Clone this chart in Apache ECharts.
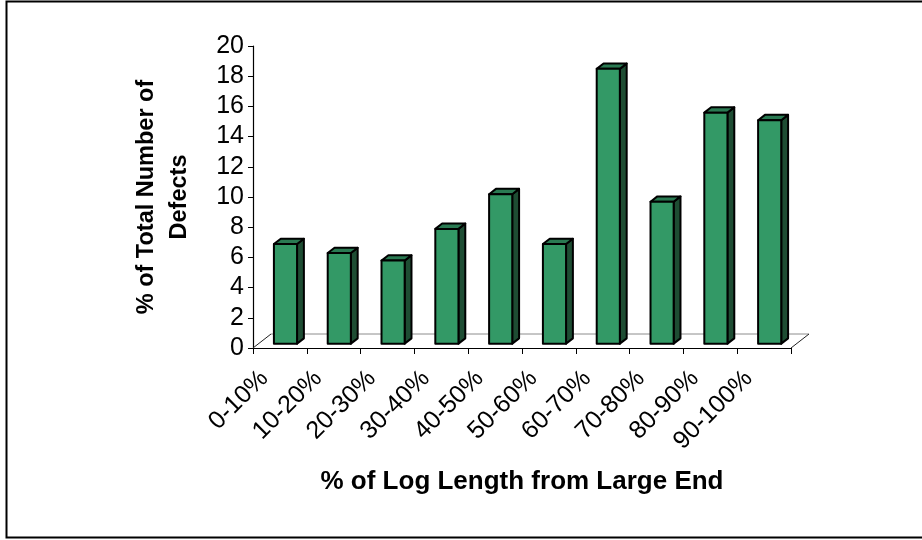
<!DOCTYPE html>
<html>
<head>
<meta charset="utf-8">
<script src="https://cdn.jsdelivr.net/npm/echarts@6/dist/echarts.min.js"></script>
<style>
  html, body { margin: 0; padding: 0; background: #ffffff; }
  #chart { width: 922px; height: 540px; }
</style>
</head>
<body>
<div id="chart"></div>
<script>
// Share of defects along the log, by position from the large end
const categories = ['0-10%', '10-20%', '20-30%', '30-40%', '40-50%',
                    '50-60%', '60-70%', '70-80%', '80-90%', '90-100%'];
const defectShare = [6.6, 6.0, 5.5, 7.6, 9.9, 6.6, 18.2, 9.4, 15.3, 14.8];
const yTicks = { min: 0, max: 20, step: 2 };

// Oblique projection of the floor depth (pixels) used for the pseudo-3D look
const DEPTH = [18, -14];
const BAR_FRONT = 0.31;   // bar front face position within the depth
const BAR_DEPTH = 0.38;   // bar thickness along the depth
const BAR_WIDTH = 0.43;   // bar front width as a share of the category band

const FONT = '"Liberation Sans", Arial, sans-serif';

function renderFloor(params, api) {
  const n = categories.length;
  const band = api.size([1, 0])[0];
  const l = api.coord([0, 0]);
  const r = api.coord([n - 1, 0]);
  const x0 = l[0] - band / 2, x1 = r[0] + band / 2, y0 = l[1];
  const bx0 = x0 + DEPTH[0], bx1 = x1 + DEPTH[0], by = y0 + DEPTH[1];
  return {
    type: 'group',
    children: [
      { type: 'polygon', shape: { points: [[x0, y0], [x1, y0], [bx1, by], [bx0, by]] },
        style: { fill: '#ffffff', stroke: null } },
      { type: 'line', shape: { x1: bx0, y1: by, x2: bx1, y2: by },
        style: { stroke: '#8c8c8c', lineWidth: 1 } },
      { type: 'line', shape: { x1: x0, y1: y0, x2: bx0, y2: by },
        style: { stroke: '#222222', lineWidth: 1 } },
      { type: 'line', shape: { x1: x1, y1: y0, x2: bx1, y2: by },
        style: { stroke: '#222222', lineWidth: 1 } }
    ]
  };
}

function renderBar(params, api) {
  const idx = api.value(0);
  const val = api.value(1);
  const base = api.coord([idx, 0]);
  const top = api.coord([idx, val]);
  const band = api.size([1, 0])[0];
  const w = band * BAR_WIDTH;
  const ox = DEPTH[0] * BAR_FRONT, oy = DEPTH[1] * BAR_FRONT;
  const dx = DEPTH[0] * BAR_DEPTH, dy = DEPTH[1] * BAR_DEPTH;
  const xl = base[0] - w / 2 + ox, xr = xl + w;
  const yb = base[1] + oy, yt = top[1] + oy;
  const edge = { stroke: '#000000', lineWidth: 2, lineJoin: 'round' };
  return {
    type: 'group',
    children: [
      { type: 'polygon', shape: { points: [[xr, yb], [xr + dx, yb + dy], [xr + dx, yt + dy], [xr, yt]] },
        style: Object.assign({ fill: '#1e4d33' }, edge) },
      { type: 'polygon', shape: { points: [[xl, yt], [xr, yt], [xr + dx, yt + dy], [xl + dx, yt + dy]] },
        style: Object.assign({ fill: '#2a7a52' }, edge) },
      { type: 'rect', shape: { x: xl, y: yt, width: w, height: yb - yt },
        style: Object.assign({ fill: '#339966' }, edge) }
    ]
  };
}

const chart = echarts.init(document.getElementById('chart'), null, { renderer: 'canvas' });
chart.setOption({
  animation: false,
  backgroundColor: '#ffffff',
  graphic: [{
    type: 'rect', z: 100,
    shape: { x: 6.5, y: 1.5, width: 930, height: 536 },
    style: { fill: null, stroke: '#000000', lineWidth: 2 }
  }],
  grid: { left: 253, right: 131, top: 46, bottom: 192, containLabel: false },
  xAxis: {
    type: 'category',
    data: categories,
    boundaryGap: true,
    name: '% of Log Length from Large End',
    nameLocation: 'middle',
    nameGap: 121,
    nameTextStyle: { fontFamily: FONT, fontWeight: 'bold', fontSize: 26, color: '#000000' },
    axisLine: { lineStyle: { color: '#000000', width: 1.2 } },
    axisTick: { show: true, alignWithLabel: false, length: 6, inside: false,
                lineStyle: { color: '#000000', width: 1 } },
    axisLabel: { interval: 0, rotate: 45, margin: 11, padding: [0, 22, 0, 0],
                 fontFamily: FONT, fontSize: 25, color: '#000000' },
    splitLine: { show: false }
  },
  yAxis: {
    type: 'value',
    min: yTicks.min,
    max: yTicks.max,
    interval: yTicks.step,
    name: '% of Total Number of\nDefects',
    nameLocation: 'middle',
    nameGap: 57,
    nameRotate: 90,
    nameTextStyle: { fontFamily: FONT, fontWeight: 'bold', fontSize: 23.5, color: '#000000', lineHeight: 33, align: 'center' },
    axisLine: { show: true, lineStyle: { color: '#000000', width: 1.2 } },
    axisTick: { show: true, length: 5, lineStyle: { color: '#000000', width: 1 } },
    axisLabel: { margin: 9, fontFamily: FONT, fontSize: 25, color: '#000000' },
    splitLine: { show: false }
  },
  series: [
    {
      type: 'custom',
      name: 'floor',
      z: 1,
      silent: true,
      data: [[0, 0]],
      encode: { x: 0, y: 1 },
      renderItem: renderFloor
    },
    {
      type: 'custom',
      name: 'defects',
      z: 2,
      data: defectShare.map(function (v, i) { return [i, v]; }),
      encode: { x: 0, y: 1 },
      renderItem: renderBar
    }
  ]
});
</script>
</body>
</html>
